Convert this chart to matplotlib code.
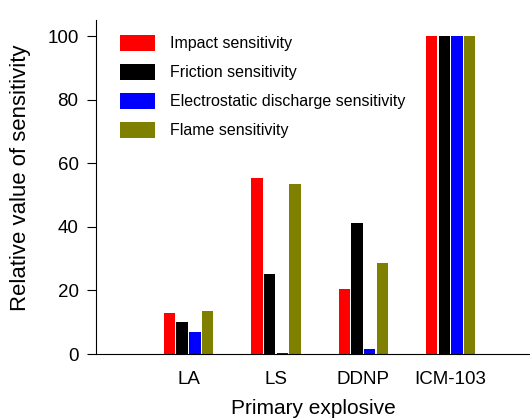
import numpy as np
import matplotlib
matplotlib.use('Agg')
import matplotlib.pyplot as plt

plt.rcParams['font.family'] = ['Liberation Sans', 'DejaVu Sans']

explosives = ['LA', 'LS', 'DDNP', 'ICM-103']
series_names = ['Impact sensitivity', 'Friction sensitivity',
                'Electrostatic discharge sensitivity', 'Flame sensitivity']
impact = [12.8, 55.3, 20.4, 100]
friction = [10.1, 25.2, 41.2, 100]
electrostatic = [6.9, 0.4, 1.5, 100]
flame = [13.5, 53.5, 28.5, 100]
colors = ['#ff0000', '#000000', '#0000ff', '#808000']

fig = plt.figure(figsize=(5.3, 4.2), dpi=100)
ax = fig.add_axes([0.181, 0.157, 0.819, 0.795])

x = np.arange(len(explosives))
pitch = 0.145
width = 0.13
for i, (vals, name, c) in enumerate(zip([impact, friction, electrostatic, flame], series_names, colors)):
    ax.bar(x + (i - 1.5) * pitch, vals, width, color=c, label=name)

ax.set_xlim(-1.06, 3.91)
ax.set_ylim(0, 105)
ax.set_yticks([0, 20, 40, 60, 80, 100])
ax.set_xticks(x)
ax.set_xticklabels(explosives)
ax.tick_params(axis='x', length=0, labelsize=13.5, pad=12)
ax.tick_params(axis='y', direction='out', length=6.5, labelsize=13.5, pad=6)
ax.spines['top'].set_visible(False)
ax.spines['right'].set_visible(False)
ax.set_xlabel('Primary explosive', fontsize=15, labelpad=8)
ax.set_ylabel('Relative value of sensitivity', fontsize=15.9, va='center')
ax.yaxis.set_label_coords(-0.173, 0.528)

ax.legend(loc='upper left', bbox_to_anchor=(0.034, 0.985), frameon=False, fontsize=11.5,
          handlelength=2.2, handleheight=1.2, labelspacing=0.78, handletextpad=0.9,
          borderaxespad=0.2)

fig.savefig('out.png', dpi=100)
